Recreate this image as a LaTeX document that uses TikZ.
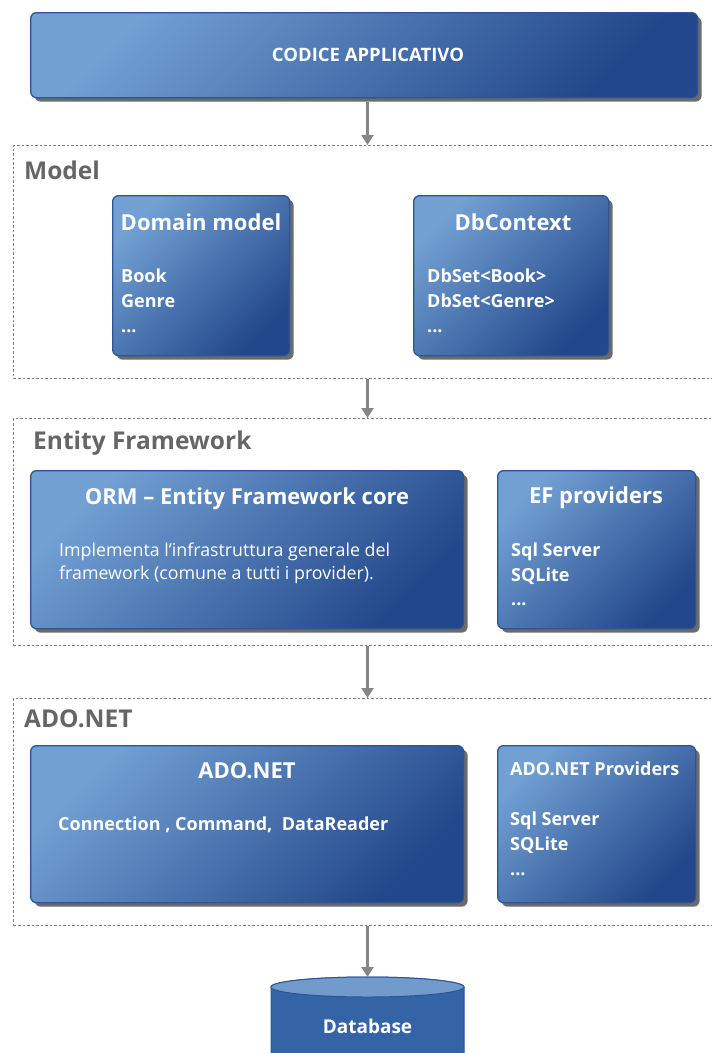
\documentclass[tikz,border=0pt]{standalone}
\usepackage{fontspec}
\setmainfont{Open Sans}
\usetikzlibrary{arrows.meta,shadows}

\definecolor{boxlight}{HTML}{72A0D3}
\definecolor{boxdark}{HTML}{22478A}
\definecolor{boxline}{HTML}{2B5597}
\definecolor{labelgray}{HTML}{666666}
\definecolor{dbbody}{HTML}{3464A6}
\definecolor{dbtop}{HTML}{729BCB}

\newcommand{\fs}[1]{\fontsize{#1}{#1}\selectfont}
\newcommand{\etc}{...}

\tikzset{
  bluebox/.style={draw=boxline, line width=1.3pt, rounded corners=6pt,
    top color=boxlight, bottom color=boxdark, shading angle=45,
    drop shadow={shadow xshift=4pt, shadow yshift=-4pt, fill=black!58, opacity=1},
    anchor=north west, inner sep=0pt},
  frame/.style={draw=gray, line width=1pt, dash pattern=on 2.5pt off 2pt,
    anchor=north west, inner sep=0pt},
  layername/.style={font=\bfseries\fs{24.5}, text=labelgray, anchor=base west, inner sep=0pt},
  boxtitle/.style={font=\bfseries\fs{22}, text=white, anchor=base, inner sep=0pt},
  boxitem/.style={font=\bfseries\fs{18}, text=white, anchor=base west, inner sep=0pt},
  boxtext/.style={font=\fs{17.8}, text=white, anchor=base west, inner sep=0pt},
  flow/.style={draw=gray!95, line width=2.2pt, -{Triangle[width=12pt,length=10pt]}}
}

\begin{document}
\begin{tikzpicture}[x=1pt, y=-1pt]
  \useasboundingbox (0,0) rectangle (712,1053);

  % application code
  \node[bluebox, minimum width=667pt, minimum height=85pt] (app) at (30,12) {};
  \node[font=\bfseries\fs{18.5}, text=white] at (368,55) {CODICE APPLICATIVO};

  % Model layer
  \node[frame, minimum width=710pt, minimum height=233pt] (model) at (13,145) {};
  \node[layername] at (24,179) {Model};

  \node[bluebox, minimum width=177pt, minimum height=160pt] (domain) at (112,195) {};
  \node[boxtitle] at (201,230) {Domain model};
  \foreach \t [count=\i] in {Book,Genre,\etc}
    \node[boxitem] at (121,257+25*\i) {\t};

  \node[bluebox, minimum width=195pt, minimum height=160pt] (dbctx) at (413,195) {};
  \node[boxtitle] at (513,230) {DbContext};
  \foreach \t [count=\i] in {DbSet<Book>,DbSet<Genre>,\etc}
    \node[boxitem] at (427,257+25*\i) {\t};

  % Entity Framework layer
  \node[frame, minimum width=710pt, minimum height=227pt] (ef) at (13,418) {};
  \node[layername] at (33,449) {Entity Framework};

  \node[bluebox, minimum width=433pt, minimum height=158pt] (orm) at (30,470) {};
  \node[boxtitle] at (247,504) {ORM -- Entity Framework core};
  \node[boxtext] at (59,556) {Implementa l’infrastruttura generale del};
  \node[boxtext] at (59,579) {framework (comune a tutti i provider).};

  \node[bluebox, minimum width=198pt, minimum height=158pt] (efprov) at (497,470) {};
  \node[boxtitle] at (596,503) {EF providers};
  \foreach \t [count=\i] in {Sql Server,SQLite,\etc}
    \node[boxitem] at (511,532+24.5*\i) {\t};

  % ADO.NET layer
  \node[frame, minimum width=710pt, minimum height=227pt] (ado) at (13,698) {};
  \node[layername] at (24,727) {ADO.NET};

  \node[bluebox, minimum width=433pt, minimum height=157pt] (adonet) at (30,745) {};
  \node[boxtitle] at (247,778) {ADO.NET};
  \node[boxitem] at (58,830) {Connection , Command,\ \ DataReader};

  \node[bluebox, minimum width=198pt, minimum height=157pt] (adoprov) at (497,745) {};
  \node[boxitem] at (510,775) {ADO.NET Providers};
  \foreach \t [count=\i] in {Sql Server,SQLite,\etc}
    \node[boxitem] at (510,800+25*\i) {\t};

  % database
  \fill[dbbody, draw=boxline, line width=1pt] (271,987) -- (271,1070) -- (464,1070) -- (464,987) arc[start angle=0, end angle=180, x radius=96.5pt, y radius=10pt];
  \filldraw[fill=dbtop, draw=boxline, line width=1pt] (367.5,987) ellipse[x radius=96.5pt, y radius=10pt];
  \coordinate (db) at (367.5,977);
  \node[font=\bfseries\fs{19}, text=white, anchor=base] at (367.5,1033) {Database};

  % connectors
  \draw[flow] (app.south -| db) ++(0,4) -- (model.north -| db);
  \draw[flow] (model.south -| db) -- (ef.north -| db);
  \draw[flow] (ef.south -| db) -- (ado.north -| db);
  \draw[flow] (ado.south -| db) -- (db);
\end{tikzpicture}
\end{document}
